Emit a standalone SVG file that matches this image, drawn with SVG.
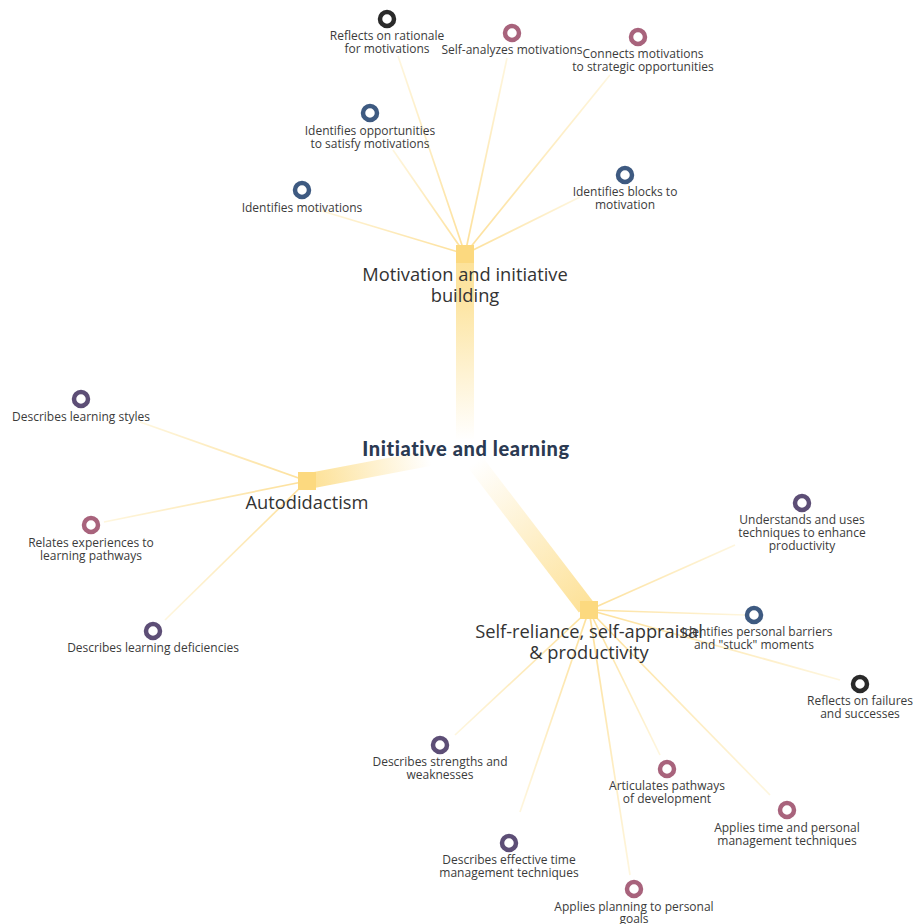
<svg xmlns="http://www.w3.org/2000/svg" width="915" height="924" viewBox="0 0 915 924">
<style>
.leaf{font-family:"Open Sans","Noto Sans",sans-serif;font-size:12px;fill:#3b3b3b;text-anchor:middle}
.hub{font-family:"Open Sans","Noto Sans",sans-serif;font-size:18.3px;fill:#333;text-anchor:middle}
.title{font-family:Lato,"Noto Sans",sans-serif;font-weight:900;font-size:20px;letter-spacing:0.6px;fill:#2b3a52;text-anchor:middle}
.ln{stroke-width:1.7;fill:none}
.sq{fill:#fcd97f}
.r{fill:#fff;stroke-width:4.5}
.dk{stroke:#2a2a2a}.pk{stroke:#a8637c}.bl{stroke:#3e5a81}.pu{stroke:#5d4e76}
.s0{stop-color:#fde09a}.s1{stop-color:#fef6de}
</style>
<defs>
<linearGradient id="gTop" gradientUnits="userSpaceOnUse" x1="0" y1="262" x2="0" y2="440">
<stop offset="0" stop-color="#fde29a"/><stop offset="0.25" stop-color="#fde6a6"/><stop offset="1" stop-color="#ffffff"/>
</linearGradient>
<linearGradient id="gLeft" gradientUnits="userSpaceOnUse" x1="316" y1="481" x2="430" y2="458">
<stop offset="0" stop-color="#fde29a"/><stop offset="1" stop-color="#ffffff"/>
</linearGradient>
<linearGradient id="gBR" gradientUnits="userSpaceOnUse" x1="475" y1="462" x2="585" y2="605">
<stop offset="0" stop-color="#ffffff"/><stop offset="1" stop-color="#fde29a"/>
</linearGradient>
<linearGradient id="l1" gradientUnits="userSpaceOnUse" x1="465" y1="254" x2="398" y2="56"><stop offset="0" class="s0"/><stop offset="1" class="s1"/></linearGradient>
<linearGradient id="l2" gradientUnits="userSpaceOnUse" x1="465" y1="254" x2="507" y2="58"><stop offset="0" class="s0"/><stop offset="1" class="s1"/></linearGradient>
<linearGradient id="l3" gradientUnits="userSpaceOnUse" x1="465" y1="254" x2="610" y2="75"><stop offset="0" class="s0"/><stop offset="1" class="s1"/></linearGradient>
<linearGradient id="l4" gradientUnits="userSpaceOnUse" x1="465" y1="254" x2="393" y2="150"><stop offset="0" class="s0"/><stop offset="1" class="s1"/></linearGradient>
<linearGradient id="l5" gradientUnits="userSpaceOnUse" x1="465" y1="254" x2="580" y2="197"><stop offset="0" class="s0"/><stop offset="1" class="s1"/></linearGradient>
<linearGradient id="l6" gradientUnits="userSpaceOnUse" x1="465" y1="254" x2="312" y2="208"><stop offset="0" class="s0"/><stop offset="1" class="s1"/></linearGradient>
<linearGradient id="l7" gradientUnits="userSpaceOnUse" x1="307" y1="481" x2="140" y2="422"><stop offset="0" class="s0"/><stop offset="1" class="s1"/></linearGradient>
<linearGradient id="l8" gradientUnits="userSpaceOnUse" x1="307" y1="481" x2="104" y2="522"><stop offset="0" class="s0"/><stop offset="1" class="s1"/></linearGradient>
<linearGradient id="l9" gradientUnits="userSpaceOnUse" x1="307" y1="481" x2="165" y2="620"><stop offset="0" class="s0"/><stop offset="1" class="s1"/></linearGradient>
<linearGradient id="l10" gradientUnits="userSpaceOnUse" x1="589" y1="610" x2="735" y2="545"><stop offset="0" class="s0"/><stop offset="1" class="s1"/></linearGradient>
<linearGradient id="l11" gradientUnits="userSpaceOnUse" x1="589" y1="610" x2="745" y2="615"><stop offset="0" class="s0"/><stop offset="1" class="s1"/></linearGradient>
<linearGradient id="l12" gradientUnits="userSpaceOnUse" x1="589" y1="610" x2="840" y2="680"><stop offset="0" class="s0"/><stop offset="1" class="s1"/></linearGradient>
<linearGradient id="l13" gradientUnits="userSpaceOnUse" x1="589" y1="610" x2="455" y2="735"><stop offset="0" class="s0"/><stop offset="1" class="s1"/></linearGradient>
<linearGradient id="l14" gradientUnits="userSpaceOnUse" x1="589" y1="610" x2="520" y2="812"><stop offset="0" class="s0"/><stop offset="1" class="s1"/></linearGradient>
<linearGradient id="l15" gradientUnits="userSpaceOnUse" x1="589" y1="610" x2="660" y2="755"><stop offset="0" class="s0"/><stop offset="1" class="s1"/></linearGradient>
<linearGradient id="l16" gradientUnits="userSpaceOnUse" x1="589" y1="610" x2="770" y2="795"><stop offset="0" class="s0"/><stop offset="1" class="s1"/></linearGradient>
<linearGradient id="l17" gradientUnits="userSpaceOnUse" x1="589" y1="610" x2="630" y2="875"><stop offset="0" class="s0"/><stop offset="1" class="s1"/></linearGradient>
</defs>
<rect width="915" height="924" fill="#fff"/>
<g id="connectors">
<line x1="465" y1="262" x2="465" y2="440" stroke="url(#gTop)" stroke-width="18"/>
<line x1="314" y1="480" x2="430" y2="458" stroke="url(#gLeft)" stroke-width="16"/>
<line x1="475" y1="462" x2="586" y2="607" stroke="url(#gBR)" stroke-width="18"/>
<line class="ln" stroke="url(#l1)" x1="465" y1="254" x2="398" y2="56"/>
<line class="ln" stroke="url(#l2)" x1="465" y1="254" x2="507" y2="58"/>
<line class="ln" stroke="url(#l3)" x1="465" y1="254" x2="610" y2="75"/>
<line class="ln" stroke="url(#l4)" x1="465" y1="254" x2="393" y2="150"/>
<line class="ln" stroke="url(#l5)" x1="465" y1="254" x2="580" y2="197"/>
<line class="ln" stroke="url(#l6)" x1="465" y1="254" x2="312" y2="208"/>
<line class="ln" stroke="url(#l7)" x1="307" y1="481" x2="140" y2="422"/>
<line class="ln" stroke="url(#l8)" x1="307" y1="481" x2="104" y2="522"/>
<line class="ln" stroke="url(#l9)" x1="307" y1="481" x2="165" y2="620"/>
<line class="ln" stroke="url(#l10)" x1="589" y1="610" x2="735" y2="545"/>
<line class="ln" stroke="url(#l11)" x1="589" y1="610" x2="745" y2="615"/>
<line class="ln" stroke="url(#l12)" x1="589" y1="610" x2="840" y2="680"/>
<line class="ln" stroke="url(#l13)" x1="589" y1="610" x2="455" y2="735"/>
<line class="ln" stroke="url(#l14)" x1="589" y1="610" x2="520" y2="812"/>
<line class="ln" stroke="url(#l15)" x1="589" y1="610" x2="660" y2="755"/>
<line class="ln" stroke="url(#l16)" x1="589" y1="610" x2="770" y2="795"/>
<line class="ln" stroke="url(#l17)" x1="589" y1="610" x2="630" y2="875"/>
</g>
<g id="root"><text class="title" x="466" y="456">Initiative and learning</text></g>
<g id="hub-motivation"><rect class="sq" x="456" y="245" width="18" height="18"/><text class="hub" x="465" y="281">Motivation and initiative</text><text class="hub" x="465" y="302">building</text></g>
<g id="hub-autodidactism"><rect class="sq" x="298" y="472" width="18" height="18"/><text class="hub" x="307" y="509">Autodidactism</text></g>
<g id="hub-selfreliance"><rect class="sq" x="580" y="601" width="18" height="18"/><text class="hub" x="589" y="638">Self-reliance, self-appraisal</text><text class="hub" x="589" y="659">&amp; productivity</text></g>
<g id="n1"><circle class="r dk" cx="387" cy="19" r="7"/><text class="leaf" x="387" y="40">Reflects on rationale</text><text class="leaf" x="387" y="53">for motivations</text></g>
<g id="n2"><circle class="r pk" cx="512" cy="33" r="7"/><text class="leaf" x="512" y="54">Self-analyzes motivations</text></g>
<g id="n3"><circle class="r pk" cx="638" cy="37" r="7"/><text class="leaf" x="643" y="58">Connects motivations</text><text class="leaf" x="643" y="71">to strategic opportunities</text></g>
<g id="n4"><circle class="r bl" cx="370" cy="113" r="7"/><text class="leaf" x="370" y="135">Identifies opportunities</text><text class="leaf" x="370" y="148">to satisfy motivations</text></g>
<g id="n5"><circle class="r bl" cx="625" cy="175" r="7"/><text class="leaf" x="625" y="196">Identifies blocks to</text><text class="leaf" x="625" y="209">motivation</text></g>
<g id="n6"><circle class="r bl" cx="302" cy="190" r="7"/><text class="leaf" x="302" y="212">Identifies motivations</text></g>
<g id="n7"><circle class="r pu" cx="81" cy="399" r="7"/><text class="leaf" x="81" y="421">Describes learning styles</text></g>
<g id="n8"><circle class="r pk" cx="91" cy="525" r="7"/><text class="leaf" x="91" y="547">Relates experiences to</text><text class="leaf" x="91" y="560">learning pathways</text></g>
<g id="n9"><circle class="r pu" cx="153" cy="631" r="7"/><text class="leaf" x="153" y="652">Describes learning deficiencies</text></g>
<g id="n10"><circle class="r pu" cx="802" cy="503" r="7"/><text class="leaf" x="802" y="524">Understands and uses</text><text class="leaf" x="802" y="537">techniques to enhance</text><text class="leaf" x="802" y="550">productivity</text></g>
<g id="n11"><circle class="r bl" cx="754" cy="615" r="7"/><text class="leaf" x="757" y="636">Identifies personal barriers</text><text class="leaf" x="754" y="649">and "stuck" moments</text></g>
<g id="n12"><circle class="r dk" cx="860" cy="684" r="7"/><text class="leaf" x="860" y="705">Reflects on failures</text><text class="leaf" x="860" y="718">and successes</text></g>
<g id="n13"><circle class="r pu" cx="440" cy="745" r="7"/><text class="leaf" x="440" y="766">Describes strengths and</text><text class="leaf" x="440" y="779">weaknesses</text></g>
<g id="n14"><circle class="r pk" cx="667" cy="769" r="7"/><text class="leaf" x="667" y="790">Articulates pathways</text><text class="leaf" x="667" y="803">of development</text></g>
<g id="n15"><circle class="r pk" cx="787" cy="810" r="7"/><text class="leaf" x="787" y="832">Applies time and personal</text><text class="leaf" x="787" y="845">management techniques</text></g>
<g id="n16"><circle class="r pu" cx="509" cy="843" r="7"/><text class="leaf" x="509" y="864">Describes effective time</text><text class="leaf" x="509" y="877">management techniques</text></g>
<g id="n17"><circle class="r pk" cx="634" cy="889" r="7"/><text class="leaf" x="634" y="911">Applies planning to personal</text><text class="leaf" x="634" y="923">goals</text></g>
</svg>
